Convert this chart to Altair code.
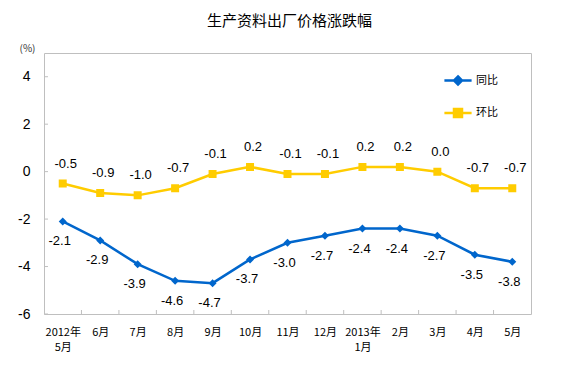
import json
import altair as alt
import pandas as pd

# ---- data ----
months = ["2012年|5月", "6月", "7月", "8月", "9月", "10月", "11月", "12月",
          "2013年|1月", "2月", "3月", "4月", "5月"]
yoy = [-2.1, -2.9, -3.9, -4.6, -4.7, -3.7, -3.0, -2.7, -2.4, -2.4, -2.7, -3.5, -3.8]   # 同比
mom = [-0.5, -0.9, -1.0, -0.7, -0.1, 0.2, -0.1, -0.1, 0.2, 0.2, 0.0, -0.7, -0.7]      # 环比
series_names = ["同比", "环比"]
y_ticks = [-6, -4, -2, 0, 2, 4]
title_text = "生产资料出厂价格涨跌幅"
unit_text = "(%)"

# ---- styling ----
W, H = 487, 261
colors = ["#0066cc", "#ffcc00"]
shapes = ["M-3.4,0H3.4M0,-1L1,0L0,1L-1,0Z", "M-3.4,0H3.4M-1,-1H1V1H-1Z"]
CJK = "Noto Sans CJK SC"
LAT = "Liberation Sans"
GRAY = "#bfbfbf"

rows = []
for i, (a, b) in enumerate(zip(yoy, mom)):
    rows.append({"i": i, "series": series_names[0], "v": a, "lbl": f"{a:.1f}"})
    rows.append({"i": i, "series": series_names[1], "v": b, "lbl": f"{b:.1f}"})
df = pd.DataFrame(rows)

# category boundaries (for Excel-style inner ticks) and y tick positions
bounds_df = pd.DataFrame({"i": [k + 0.5 for k in range(len(months) - 1)]})
yt_df = pd.DataFrame({"v": y_ticks})

label_expr = "split(" + json.dumps(months, ensure_ascii=False) + "[datum.value], '|')"

x_enc = alt.X(
    "i:Q",
    scale=alt.Scale(domain=[-0.5, len(months) - 0.5], nice=False, zero=False),
    axis=alt.Axis(values=list(range(len(months))), labelExpr=label_expr, title=None,
                  ticks=False, domain=False, grid=False, labelFont=CJK, labelFontSize=11,
                  labelPadding=12, labelBaseline="top", labelLineHeight=15,
                  labelOverlap=False, labelFlush=False, labelColor="black"),
)
y_enc = alt.Y(
    "v:Q",
    scale=alt.Scale(domain=[-6, 5], nice=False, zero=False),
    axis=alt.Axis(values=y_ticks, labelExpr="'' + datum.value", title=unit_text,
                  titleAngle=0, titleX=-17, titleY=-5, titleAlign="center",
                  titleBaseline="middle", titleFont=CJK, titleFontSize=10,
                  titleFontWeight="normal", titleColor="#333333",
                  ticks=False, domain=False, grid=False, labelFont=LAT,
                  labelFontSize=14, labelPadding=14, labelColor="black"),
)

leg = alt.Legend(title=None, orient="none", legendX=408.5, legendY=22, padding=0,
                 symbolSize=64, symbolStrokeWidth=2.5, labelOffset=12.5, rowPadding=13.5,
                 labelFont=CJK, labelFontSize=11, labelColor="black")

base = alt.Chart(df)

lines = base.mark_line(strokeWidth=2.5).encode(
    x=x_enc, y=y_enc,
    stroke=alt.Stroke("series:N", scale=alt.Scale(domain=series_names, range=colors), legend=leg),
)
points = base.mark_point(filled=True, size=64, opacity=1).encode(
    x=x_enc, y=y_enc,
    fill=alt.Fill("series:N", scale=alt.Scale(domain=series_names, range=colors), legend=leg),
    shape=alt.Shape("series:N", scale=alt.Scale(domain=series_names, range=shapes), legend=leg),
)
lbl_yoy = base.transform_filter(alt.datum.series == series_names[0]).mark_text(
    dy=20, dx=-3, font=LAT, fontSize=13, color="black"
).encode(x=x_enc, y=y_enc, text="lbl:N")
lbl_mom = base.transform_filter(alt.datum.series == series_names[1]).mark_text(
    dy=-20, dx=3, font=LAT, fontSize=13, color="black"
).encode(x=x_enc, y=y_enc, text="lbl:N")

xticks = alt.Chart(bounds_df).mark_rule(color=GRAY, strokeWidth=1).encode(
    x=x_enc, y=alt.value(H - 4), y2=alt.value(H)
)
yticks = alt.Chart(yt_df).mark_rule(color=GRAY, strokeWidth=1).encode(
    y=y_enc, x=alt.value(0), x2=alt.value(4)
)

chart = alt.layer(xticks, yticks, lines, points, lbl_yoy, lbl_mom).properties(
    width=W, height=H,
    title=alt.TitleParams(title_text, font=CJK, fontSize=15, fontWeight="normal",
                          anchor="middle", frame="group", offset=14, dx=2, color="black"),
    autosize=alt.AutoSizeParams(type="none"),
    padding={"left": 36, "top": 45, "right": 20, "bottom": 40},
).configure_view(stroke=GRAY, strokeWidth=1)

chart.save("out.html", embed_options={"renderer": "svg", "actions": False})
